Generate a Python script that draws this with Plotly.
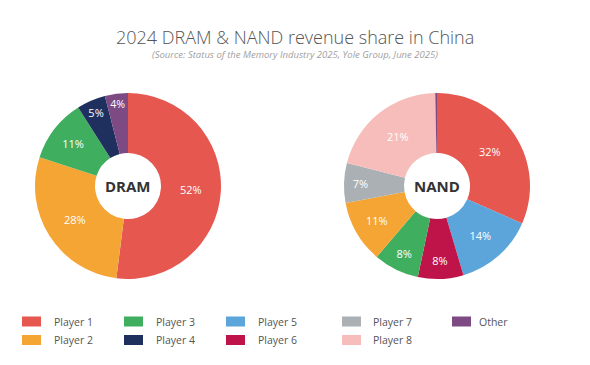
import plotly.graph_objects as go

# ---------------- data ----------------
dram_labels = ["Player 1", "Player 2", "Player 3", "Player 4", "Other"]
dram_values = [52, 28, 11, 5, 4]

nand_labels = ["Player 1", "Player 5", "Player 6", "Player 3", "Player 2", "Player 7", "Player 8", "Other"]
nand_values = [32, 14, 8, 8, 11, 7, 21, 0.3]

legend_labels = ["Player 1", "Player 2", "Player 3", "Player 4", "Player 5",
                 "Player 6", "Player 7", "Player 8", "Other"]

title_text = "2024 DRAM & NAND revenue share in China"
subtitle_text = "(Source: Status of the Memory Industry 2025, Yole Group, June 2025)"

# ---------------- styles ----------------
colors = {
    "Player 1": "#E5574F",
    "Player 2": "#F4A534",
    "Player 3": "#3FAE5F",
    "Player 4": "#1F2F5E",
    "Player 5": "#5CA5DB",
    "Player 6": "#BE1449",
    "Player 7": "#AAB0B4",
    "Player 8": "#F6BDBA",
    "Other": "#7D4A84",
}

W, H = 590, 365
FONT = "Open Sans"


def px_x(x):
    return x / W


def px_y(y):
    return 1 - y / H


def pct_text(vals):
    return [f"{v:g}%" if v >= 1 else "" for v in vals]


R = 93
dram_c = (128, 186)
nand_c = (437, 186)


def domain(c):
    return dict(x=[px_x(c[0] - R), px_x(c[0] + R)],
                y=[px_y(c[1] + R), px_y(c[1] - R)])


fig = go.Figure()
for name, labels, values, c in [("DRAM", dram_labels, dram_values, dram_c),
                                ("NAND", nand_labels, nand_values, nand_c)]:
    fig.add_trace(go.Pie(
        labels=labels, values=values, text=pct_text(values),
        textinfo="text", textposition="inside", insidetextorientation="horizontal",
        sort=False, direction="clockwise", rotation=0, hole=0.355,
        marker=dict(colors=[colors[l] for l in labels], line=dict(width=0)),
        textfont=dict(family=FONT, size=11, color="white"),
        domain=domain(c), showlegend=False, name=name,
    ))
    fig.add_annotation(x=px_x(c[0]), y=px_y(c[1]), xref="paper", yref="paper",
                       text=f"<b>{name}</b>", showarrow=False,
                       xanchor="center", yanchor="middle",
                       font=dict(family=FONT, size=15, color="#333333"))

# title + subtitle
fig.add_annotation(x=0.5, y=px_y(37), xref="paper", yref="paper", text=title_text,
                   showarrow=False, xanchor="center", yanchor="middle",
                   font=dict(family=FONT, size=18, color="#555555", weight=300))
fig.add_annotation(x=0.5, y=px_y(54), xref="paper", yref="paper", text=f"<i>{subtitle_text}</i>",
                   showarrow=False, xanchor="center", yanchor="middle",
                   font=dict(family=FONT, size=9.5, color="#a0a0a0"))

# manual legend (2 rows x 5 columns, column-major)
col_swatch_x = [22, 124, 226, 342, 452]
col_text_x = [52, 154, 256, 371, 477]
row_y = [321.5, 340]
for i, lab in enumerate(legend_labels):
    col, row = divmod(i, 2)
    y = row_y[row]
    x0 = col_swatch_x[col]
    fig.add_shape(type="rect", xref="paper", yref="paper",
                  x0=px_x(x0), x1=px_x(x0 + 19), y0=px_y(y - 5), y1=px_y(y + 5),
                  fillcolor=colors[lab], line=dict(width=0))
    fig.add_annotation(x=px_x(col_text_x[col]), y=px_y(y), xref="paper", yref="paper",
                       text=lab, showarrow=False, xanchor="left", yanchor="middle",
                       font=dict(family=FONT, size=10.5, color="#555555"))

fig.update_layout(width=W, height=H, margin=dict(l=0, r=0, t=0, b=0),
                  paper_bgcolor="white", plot_bgcolor="white")

fig.write_html("out.html", config={"displayModeBar": False},
               post_script="document.body.style.margin='0';")
